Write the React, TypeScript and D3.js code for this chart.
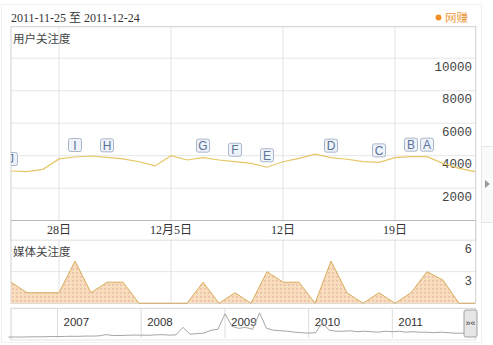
import React from "react";
import * as d3 from "d3";

const dates = [
  "2011-11-25","2011-11-26","2011-11-27","2011-11-28","2011-11-29","2011-11-30",
  "2011-12-01","2011-12-02","2011-12-03","2011-12-04","2011-12-05","2011-12-06",
  "2011-12-07","2011-12-08","2011-12-09","2011-12-10","2011-12-11","2011-12-12",
  "2011-12-13","2011-12-14","2011-12-15","2011-12-16","2011-12-17","2011-12-18",
  "2011-12-19","2011-12-20","2011-12-21","2011-12-22","2011-12-23","2011-12-24",
];
const userValues = [
  3060, 3015, 3160, 3800, 3920, 3980, 3900, 3800, 3630, 3370,
  4000, 3735, 3880, 3735, 3630, 3530, 3290, 3630, 3840, 4090,
  3880, 3780, 3630, 3590, 3880, 3940, 3940, 3530, 3225, 3015,
];
const mediaValues = [
  2, 1, 1, 1, 4, 1, 2, 2, 0, 0,
  0, 0, 2, 0, 1, 0, 3, 2, 2, 0,
  4, 1, 0, 1, 0, 1, 3, 2.2, 0, 0,
];
const flagLetters = ["J", "I", "H", "G", "F", "E", "D", "C", "B", "A"];
const flagDates = [
  "2011-11-25","2011-11-29","2011-12-01","2011-12-07","2011-12-09",
  "2011-12-11","2011-12-15","2011-12-18","2011-12-20","2011-12-21",
];
const xTickDates = ["2011-11-28", "2011-12-05", "2011-12-12", "2011-12-19"];
const xTickLabels = ["28日", "12月5日", "12日", "19日"];
const yTicks = [2000, 4000, 6000, 8000, 10000];
const mediaTicks = [3, 6];
const navYears = [2007, 2008, 2009, 2010, 2011];
const navStart = "2006-06-01";
const navValues = [
  1, 1, 1, 1.2, 1.2, 1.3, 1.5,
  1.5, 1.6, 1.8, 1.7, 2, 2, 2.2, 3.5, 2.5, 2.6, 2.8, 3,
  3, 2.8, 3.2, 3.5, 3, 3.2, 11, 4, 4.5, 5, 8, 9,
  25, 12, 10, 11, 9, 26, 10, 8, 7.5, 7, 6, 5.5,
  5, 5.5, 16, 8, 7, 7, 7.5, 6.5, 7, 6.5, 6, 7,
  6.5, 7, 6, 6.5, 6, 6, 5.5, 6, 5.5, 5, 5, 4.5,
];

const parse = d3.timeParse("%Y-%m-%d");
const L = 11;
const R = 475.7;

export default function App() {
  const x = d3.scaleTime()
    .domain([parse(dates[0])!, parse(dates[dates.length - 1])!])
    .range([L, R - 0.7]);
  const y = d3.scaleLinear().domain([0, 12000]).range([220.7, 25.7]);
  const ym = d3.scaleLinear().domain([0, 6]).range([303.3, 240]);

  const xn = d3.scaleTime()
    .domain([new Date(2006, 5, 12), new Date(2011, 11, 31)])
    .range([L, R]);
  const yn = d3.scaleLinear().domain([0, 30]).range([338, 309]);

  const userLine = d3.line<number>()
    .x((_, i) => x(parse(dates[i])!))
    .y((d) => y(d))(userValues) || "";
  const mediaArea = d3.area<number>()
    .x((_, i) => x(parse(dates[i])!))
    .y0(ym(0))
    .y1((d) => ym(d))(mediaValues) || "";
  const mediaLine = d3.line<number>()
    .x((_, i) => x(parse(dates[i])!))
    .y((d) => ym(d))(mediaValues) || "";
  const navStartDate = parse(navStart)!;
  const navLine = d3.line<number>()
    .x((_, i) => xn(d3.timeMonth.offset(navStartDate, i)))
    .y((d) => yn(d))(navValues) || "";

  const serif = "'Liberation Serif', 'Noto Sans CJK SC', serif";
  const cjk = "'Noto Sans CJK SC', sans-serif";
  const mono = "'Liberation Mono', monospace";
  const sans = "'Liberation Sans', Arial, sans-serif";

  return (
    <svg width={493} height={345} style={{ position: "absolute", left: 0, top: 0, background: "#fff" }}>
      <defs>
        <clipPath id="plotClip">
          <rect x={L} y={26.7} width={R - L} height={194} />
        </clipPath>
        <pattern id="mediaPat" width={4} height={4} patternUnits="userSpaceOnUse">
          <rect width={4} height={4} fill="#f7dcbc" />
          <rect x={0} y={0} width={2} height={2} fill="#efc4b0" />
          <rect x={2} y={2} width={1} height={1} fill="#fcefc4" />
        </pattern>
      </defs>

      {/* outer faint frame */}
      <rect x={1.5} y={4.5} width={480} height={338} fill="none" stroke="#f0f0f0" />

      {/* header */}
      <text x={L} y={22} fontFamily={serif} fontSize={12} fill="#333">2011-11-25 至 2011-12-24</text>
      <circle cx={438.5} cy={17.5} r={3} fill="#f0902a" />
      <text x={445} y={22} fontFamily={cjk} fontSize={11.5} fill="#eb9a3c">网赚</text>

      {/* top plot gridlines */}
      {yTicks.map((t) => (
        <line key={t} x1={L} x2={R} y1={y(t)} y2={y(t)} stroke="#e6e6e6" />
      ))}
      {xTickDates.map((d) => (
        <line key={d} x1={x(parse(d)!)} x2={x(parse(d)!)} y1={26.7} y2={303.3} stroke="#e2e2e2" />
      ))}
      <line x1={L} x2={R} y1={ym(3)} y2={ym(3)} stroke="#e6e6e6" />

      {/* borders */}
      <rect x={L} y={26.7} width={R - L} height={276.6} fill="none" stroke="#cfcfcf" />
      <line x1={L} x2={R} y1={220.7} y2={220.7} stroke="#aaa" />
      <line x1={L} x2={R} y1={240} y2={240} stroke="#d5d5d5" />
      <rect x={L} y={221.2} width={R - L} height={18.3} fill="#fff" />
      <line x1={L} x2={L} y1={220} y2={241} stroke="#cfcfcf" />
      <line x1={R} x2={R} y1={220} y2={241} stroke="#cfcfcf" />

      <text x={13} y={43} fontFamily={cjk} fontSize={11.5} fill="#444">用户关注度</text>

      {yTicks.map((t) => (
        <text key={t} x={472} y={y(t) + 12.5} textAnchor="end" fontFamily={mono} fontSize={12.5} fill="#444">{t}</text>
      ))}

      <g clipPath="url(#plotClip)">
        <path d={userLine} fill="none" stroke="#e6c766" strokeWidth={1.2} />
        {flagLetters.map((l, i) => {
          const d = parse(flagDates[i])!;
          const idx = dates.indexOf(flagDates[i]);
          const cx = x(d);
          const cy = y(userValues[idx]) - 12;
          return (
            <g key={l}>
              <rect x={cx - 6.5} y={cy - 6.5} width={13} height={13} rx={2} fill="#eef3fa" stroke="#a9b5c9" />
              <text x={cx} y={cy + 4.5} textAnchor="middle" fontFamily={sans} fontSize={12} fill="#5b7299">{l}</text>
            </g>
          );
        })}
      </g>

      {xTickDates.map((d, i) => (
        <text key={d} x={x(parse(d)!)} y={234} textAnchor="middle" fontFamily={serif} fontSize={12} fill="#333">{xTickLabels[i]}</text>
      ))}

      <text x={13} y={256} fontFamily={cjk} fontSize={11.5} fill="#444">媒体关注度</text>
      <path d={mediaArea} fill="url(#mediaPat)" />
      <path d={mediaLine} fill="none" stroke="#d8ac5c" strokeWidth={1} />
      {mediaTicks.map((t) => (
        <text key={t} x={472} y={ym(t) + 13} textAnchor="end" fontFamily={mono} fontSize={12.5} fill="#444">{t}</text>
      ))}

      {/* navigator */}
      <line x1={L} x2={R} y1={308.3} y2={308.3} stroke="#d5d5d5" />
      <line x1={L} x2={L} y1={308} y2={340} stroke="#d5d5d5" />
      <line x1={R} x2={R} y1={308} y2={340} stroke="#d5d5d5" />
      {navYears.map((yr) => {
        const px = xn(new Date(yr, 0, 1));
        return (
          <g key={yr}>
            <line x1={px} x2={px} y1={308.3} y2={338} stroke="#dcdcdc" />
            <text x={px + 6} y={326} fontFamily={sans} fontSize={11.5} fill="#333">{yr}</text>
          </g>
        );
      })}
      <path d={navLine} fill="none" stroke="#a5a5a5" strokeWidth={1} />
      <line x1={L} x2={R} y1={340} y2={340} stroke="#e3e3e3" />
      <rect x={464} y={310} width={13} height={27} rx={2} fill="#e6e6e6" stroke="#a0a0a0" />
      <text x={470.5} y={326} textAnchor="middle" fontFamily={sans} fontSize={9} fill="#333">»«</text>

      <rect x={481.5} y={146.5} width={12} height={76} fill="#fafafa" stroke="#e6e6e6" />
      <path d="M485,180 L490,184 L485,188 Z" fill="#999" />
    </svg>
  );
}
